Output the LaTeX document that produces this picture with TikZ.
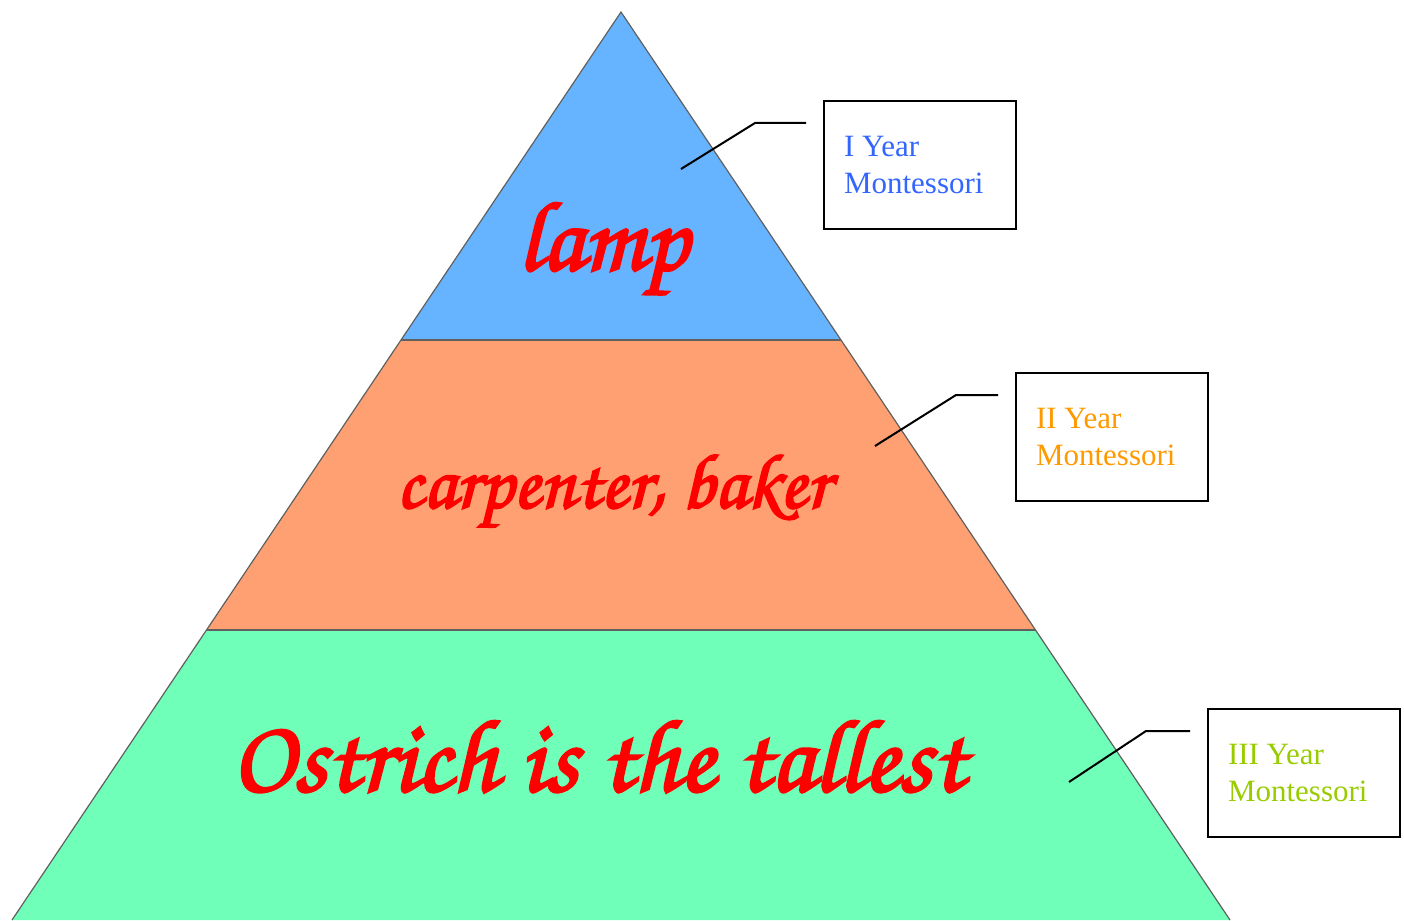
\documentclass[tikz,border=0pt]{standalone}
\usepackage[T1]{fontenc}
\usepackage{fontspec}
\setmainfont{Liberation Serif}
\definecolor{tierblue}{HTML}{66B3FF}
\definecolor{tierorange}{HTML}{FFA072}
\definecolor{tiergreen}{HTML}{70FFB8}
\definecolor{txtblue}{HTML}{3366FF}
\definecolor{txtorange}{HTML}{FF9900}
\definecolor{txtgreen}{HTML}{99CC00}
\definecolor{edgegray}{HTML}{606060}
\newcommand{\scriptfnt}{\fontencoding{T1}\fontfamily{pzc}\fontseries{mb}\fontshape{it}\selectfont}
\newcommand{\heavytext}[1]{\special{pdf:literal direct 2 Tr 0.25 w}#1\special{pdf:literal direct 0 Tr}}
\tikzset{
  yearbox/.style={draw=black, line width=2pt, minimum width=192pt, minimum height=128pt,
    anchor=north west, align=flush left, text width=152pt, inner sep=0pt, font=\fontsize{31}{37}\selectfont},
  leader/.style={draw=black, line width=2pt},
  tier/.style={draw=edgegray, line width=1.2pt},
  cursive/.style={text=red, inner sep=0pt}
}
\begin{document}
\begin{tikzpicture}[x=1pt,y=-1pt]
\useasboundingbox (0,0) rectangle (1404,920);
\coordinate (apex) at (621,12);
\coordinate (l1) at (401,340);
\coordinate (r1) at (841,340);
\coordinate (l2) at (206.5,630);
\coordinate (r2) at (1035.5,630);
\coordinate (l3) at (12,920);
\coordinate (r3) at (1230,920);
\fill[tierblue] (apex) -- (l1) -- (r1) -- cycle;
\fill[tierorange] (l1) -- (l2) -- (r2) -- (r1) -- cycle;
\fill[tiergreen] (l2) -- (l3) -- (r3) -- (r2) -- cycle;
\draw[tier] (l3) -- (apex) -- (r3);
\draw[tier] (l1) -- (r1);
\draw[tier] (l2) -- (r2);

\node[cursive] (t1) at (603,250) {\resizebox{170pt}{!}{\scriptfnt\heavytext{lamp}}};
\node[cursive] (t2) at (613,492) {\resizebox{433pt}{!}{\scriptfnt\heavytext{carpenter, baker}}};
\node[cursive] (t3) at (598,755) {\resizebox{733pt}{!}{\scriptfnt\heavytext{Ostrich is the tallest}}};

\node[yearbox, text=txtblue] (b1) at (823,100) {I Year\\Montessori};
\node[yearbox, text=txtorange] (b2) at (1015,372) {II Year\\Montessori};
\node[yearbox, text=txtgreen] (b3) at (1207,708) {III Year\\Montessori};

\coordinate (a1) at (681,169); \coordinate (k1) at (755,123); \coordinate (e1) at (806,123);
\coordinate (a2) at (875,446); \coordinate (k2) at (956,395); \coordinate (e2) at (998,395);
\coordinate (a3) at (1069,782); \coordinate (k3) at (1146,731); \coordinate (e3) at (1190,731);
\draw[leader] (a1) -- (k1) -- (e1);
\draw[leader] (a2) -- (k2) -- (e2);
\draw[leader] (a3) -- (k3) -- (e3);
\end{tikzpicture}
\end{document}
